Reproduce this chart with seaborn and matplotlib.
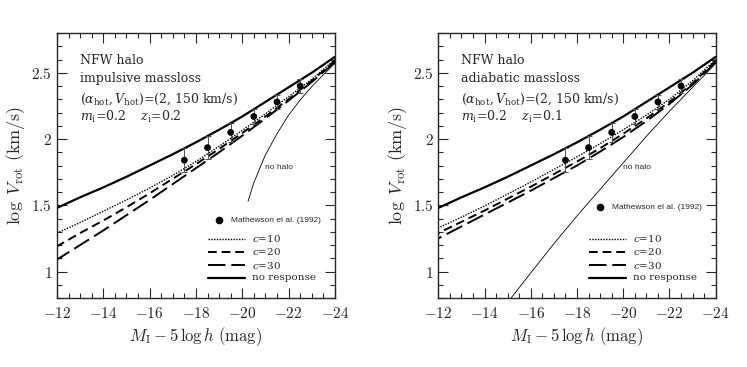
import matplotlib
matplotlib.use("Agg")
import matplotlib.pyplot as plt
import seaborn as sns
import pandas as pd
from matplotlib.ticker import MultipleLocator, FuncFormatter

# === Data ===
mag = [-12, -13, -14, -15, -16, -17, -18, -19, -20, -21, -22, -23, -24]
no_response = [1.48, 1.56, 1.635, 1.715, 1.80, 1.885, 1.975, 2.07, 2.17, 2.28, 2.39, 2.50, 2.62]

imp_c10 = [1.29, 1.37, 1.455, 1.54, 1.63, 1.725, 1.83, 1.945, 2.065, 2.19, 2.32, 2.45, 2.60]
imp_c20 = [1.19, 1.29, 1.385, 1.485, 1.59, 1.70, 1.81, 1.925, 2.045, 2.17, 2.30, 2.44, 2.59]
imp_c30 = [1.09, 1.20, 1.31, 1.425, 1.54, 1.66, 1.78, 1.90, 2.025, 2.155, 2.29, 2.43, 2.58]

adi_c10 = [1.33, 1.41, 1.495, 1.585, 1.675, 1.77, 1.865, 1.965, 2.07, 2.18, 2.30, 2.44, 2.60]
adi_c20 = [1.29, 1.375, 1.46, 1.55, 1.64, 1.735, 1.83, 1.93, 2.04, 2.155, 2.28, 2.42, 2.59]
adi_c30 = [1.25, 1.34, 1.43, 1.52, 1.61, 1.705, 1.80, 1.905, 2.015, 2.135, 2.265, 2.41, 2.58]

imp_nohalo_mag = [-20.25, -20.5, -21, -21.5, -22, -22.5, -23, -23.5, -24]
imp_nohalo = [1.53, 1.67, 1.88, 2.04, 2.18, 2.295, 2.395, 2.485, 2.57]

adi_nohalo_mag = [-15.15, -16, -17, -18, -19, -20, -21, -22, -23, -24]
adi_nohalo = [0.80, 0.99, 1.21, 1.42, 1.62, 1.82, 2.02, 2.21, 2.39, 2.57]

obs_mag = [-17.5, -18.5, -19.5, -20.5, -21.5, -22.5]
obs_v = [1.84, 1.935, 2.05, 2.17, 2.28, 2.40]
obs_err = [0.09, 0.085, 0.07, 0.06, 0.05, 0.05]

panels = [
    ("impulsive massloss", "0.2", imp_c10, imp_c20, imp_c30, imp_nohalo_mag, imp_nohalo),
    ("adiabatic massloss", "0.1", adi_c10, adi_c20, adi_c30, adi_nohalo_mag, adi_nohalo),
]

# === Style ===
sns.set_style("ticks")
plt.rcParams["font.family"] = ["cmr10", "DejaVu Serif"]
plt.rcParams["mathtext.fontset"] = "cm"
plt.rcParams["axes.formatter.use_mathtext"] = True
plt.rcParams["axes.unicode_minus"] = True

styles = {
    "c10": dict(linestyle=(0, (1, 1)), lw=1.0),
    "c20": dict(linestyle=(0, (4.5, 2.5)), lw=1.4),
    "c30": dict(linestyle=(0, (9, 3)), lw=1.4),
    "none": dict(linestyle="-", lw=1.6),
}
note = dict(family="DejaVu Serif", math_fontfamily="dejavuserif")

fig = plt.figure(figsize=(7.47, 3.67), dpi=100)
axes = [fig.add_axes([0.0763, 0.188, 0.372, 0.722]),
        fig.add_axes([0.5868, 0.188, 0.3713, 0.722])]

fmt = FuncFormatter(lambda v, p: f"${v:g}$")

for ax, (label, zi, c10, c20, c30, nh_mag, nh) in zip(axes, panels):
    curves = pd.DataFrame({"mag": mag, "c10": c10, "c20": c20, "c30": c30, "none": no_response})
    for key in ["c10", "c20", "c30", "none"]:
        sns.lineplot(data=curves, x="mag", y=key, ax=ax, color="k", **styles[key])
    sns.lineplot(x=nh_mag, y=nh, ax=ax, color="k", lw=0.6)

    ax.errorbar(obs_mag, obs_v, yerr=obs_err, fmt="none", ecolor="0.3",
                elinewidth=0.7, capsize=2.5, capthick=0.7)
    sns.scatterplot(x=obs_mag, y=obs_v, ax=ax, color="k", s=24, edgecolor="none", zorder=5)

    ax.set_xlim(-12, -24)
    ax.set_ylim(0.8, 2.8)
    ax.xaxis.set_major_locator(MultipleLocator(2))
    ax.xaxis.set_minor_locator(MultipleLocator(0.5))
    ax.yaxis.set_major_locator(MultipleLocator(0.5))
    ax.yaxis.set_minor_locator(MultipleLocator(0.1))
    ax.xaxis.set_major_formatter(fmt)
    ax.yaxis.set_major_formatter(fmt)
    ax.tick_params(which="both", direction="in", top=True, right=True, width=0.8)
    ax.tick_params(which="major", length=7, labelsize=11)
    ax.tick_params(axis="x", which="major", pad=6)
    ax.tick_params(which="minor", length=3.5)
    for s in ax.spines.values():
        s.set_linewidth(1.0)

    ax.set_xlabel(r"$M_{\rm I} - 5\,\log h\ ({\rm mag})$", fontsize=12, labelpad=3)
    ax.set_ylabel(r"$\log\ V_{\rm rot}\ ({\rm km/s})$", fontsize=13, labelpad=3)

    # annotation block
    tx = 0.083
    ax.text(tx, 0.898, "NFW halo", transform=ax.transAxes, va="center", fontsize=9, **note)
    ax.text(tx, 0.830, label, transform=ax.transAxes, va="center", fontsize=9, **note)
    ax.text(tx, 0.751, r"$(\alpha_{\rm hot}, V_{\rm hot})$=(2, 150 km/s)",
            transform=ax.transAxes, va="center", fontsize=9, **note)
    ax.text(tx, 0.683, r"$m_{\rm i}$=0.2    $z_{\rm i}$=" + zi,
            transform=ax.transAxes, va="center", fontsize=9, **note)

    # hand-made key
    first = ax is axes[0]
    mx, my = (0.583, 0.294) if first else (0.582, 0.343)
    ax.plot([mx], [my], "o", color="k", ms=4.5, transform=ax.transAxes)
    ax.text(mx + 0.043, my, "Mathewson el al. (1992)", transform=ax.transAxes,
            va="center", fontsize=6, family="Liberation Sans")
    nhx = 0.80 if first else 0.717
    ax.text(nhx, 0.494, "no halo", transform=ax.transAxes, va="center",
            ha="center", fontsize=6, family="Liberation Sans")

    keys = [("c10", r"$c$=10", 0.223), ("c20", r"$c$=20", 0.174),
            ("c30", r"$c$=30", 0.124), ("none", "no response", 0.077)]
    for key, txt, ky in keys:
        ax.plot([0.543, 0.676], [ky, ky], color="k", transform=ax.transAxes, **styles[key])
        ax.text(0.703, ky, txt, transform=ax.transAxes, va="center", fontsize=7.5, **note)

fig.savefig("out.png", dpi=100)
